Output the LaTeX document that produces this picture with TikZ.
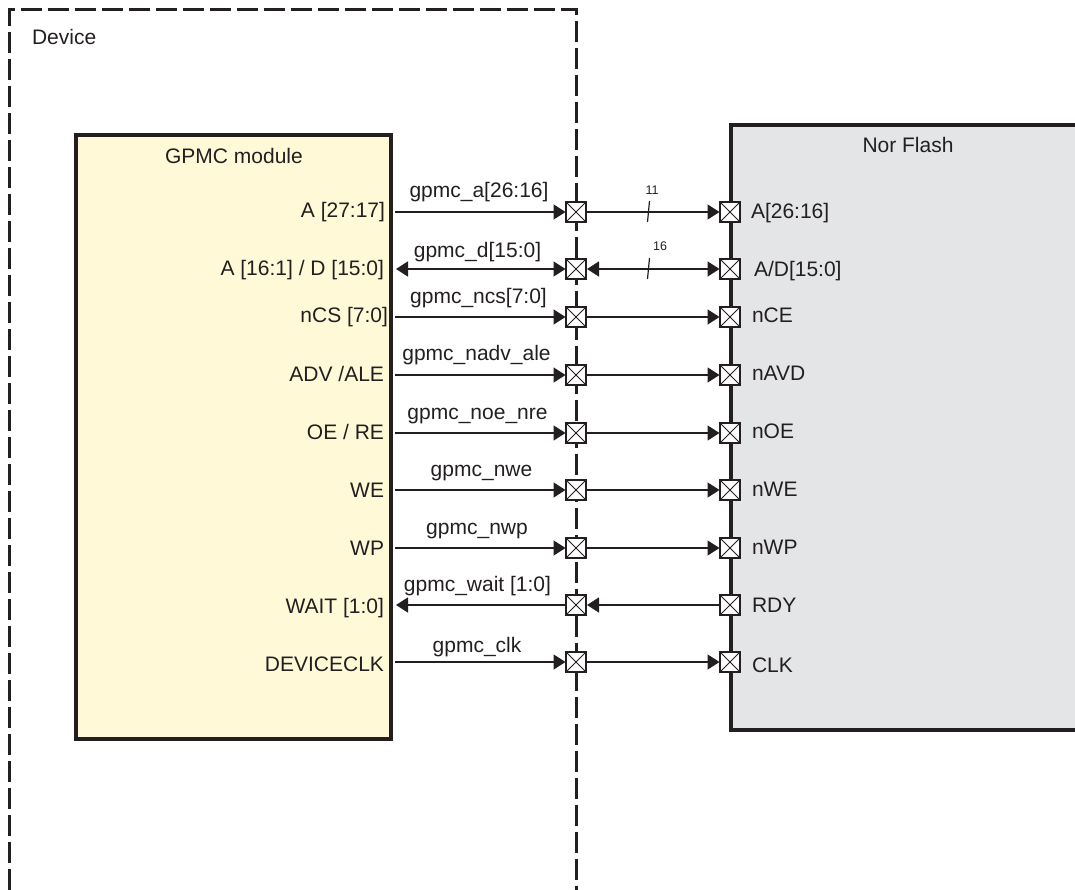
\documentclass[tikz,border=0pt]{standalone}
\usepackage{fontspec}
\setmainfont{Liberation Sans}
\usetikzlibrary{arrows.meta}
\definecolor{ink}{HTML}{231F20}
\definecolor{modyellow}{HTML}{FFF9D8}
\definecolor{flashgray}{HTML}{E4E5E7}
\tikzset{
  x=1pt,y=-1pt,
  every node/.style={text=ink,font=\fontsize{21}{24}\selectfont,inner sep=0pt,outer sep=0pt},
  devline/.style={draw=ink,line width=3pt,dash pattern=on 21pt off 6pt,line cap=butt},
  blockline/.style={draw=ink,line width=4pt,line join=miter},
  pinbox/.style={draw=ink,fill=white,line width=1.3pt,minimum width=20pt,minimum height=20pt,
    path picture={\draw[ink,line width=1pt] (path picture bounding box.south west)--(path picture bounding box.north east)
      (path picture bounding box.north west)--(path picture bounding box.south east);}},
  wire/.style={draw=ink,line width=1.5pt},
  toend/.style={wire,-{Triangle[length=12pt,width=15pt,fill=ink]},shorten >=0.5pt},
  both/.style={wire,{Triangle[length=12pt,width=15pt,fill=ink]}-{Triangle[length=12pt,width=15pt,fill=ink]},shorten >=0.5pt,shorten <=1pt},
  toback/.style={wire,{Triangle[length=12pt,width=15pt,fill=ink]}-,shorten <=1pt},
  leftlab/.style={anchor=base east},
  rightlab/.style={anchor=base west},
  siglab/.style={anchor=base},
  ticklab/.style={font=\fontsize{12.5}{14}\selectfont,anchor=center},
  tick/.style={draw=ink,line width=1.2pt},
}
\begin{document}
\begin{tikzpicture}
\useasboundingbox (0,0) rectangle (1075,890);
% device boundary
\draw[devline] (9.5,890) -- (9.5,10) -- (576,10) -- (576,890);
\node[anchor=base west] (device) at (32,45) {Device};
% GPMC module
\draw[blockline,fill=modyellow] (76,135) rectangle (391,739);
\node[anchor=base] (gpmc) at (234,164) {GPMC module};
% Nor flash
\fill[flashgray] (731,125) rectangle (1075,730);
\draw[blockline] (1075,125) -- (731,125) -- (731,730) -- (1075,730);
\node[anchor=base] (flash) at (908,153) {Nor Flash};
% left wire ends
\foreach \n/\y in {1/212,2/269,3/317,4/375,5/433,6/490,7/548,8/605,9/662}{
  \coordinate (L\n) at (395,\y);
  \node[pinbox] (M\n) at (576,\y) {};
  \node[pinbox] (R\n) at (730,\y) {};
}
% connectors
\foreach \n in {1,3,4,5,6,7,9}{
  \draw[toend] (L\n) -- (M\n.west);
  \draw[toend] (M\n.east) -- (R\n.west);
}
\draw[both] (L2) -- (M2.west);
\draw[both] (M2.east) -- (R2.west);
\draw[toback] (L8) -- (M8.west);
\draw[toback] (M8.east) -- (R8.west);
% bus ticks
\coordinate (t1a) at (649.5,201); \coordinate (t1b) at (647.5,222);
\coordinate (t2a) at (649.5,258); \coordinate (t2b) at (647.5,279);
\draw[tick] (t1a) -- (t1b);
\draw[tick] (t2a) -- (t2b);
\node[ticklab] (n11) at (652,190) {11};
\node[ticklab] (n16) at (660,246) {16};
% module pin labels
\node[leftlab] (a1) at (385,218) {A [27:17]};
\node[leftlab] (a2) at (384,276) {A [16:1] / D [15:0]};
\node[leftlab] (a3) at (388,322) {nCS [7:0]};
\node[leftlab] (a4) at (384,381) {ADV /ALE};
\node[leftlab] (a5) at (384,439) {OE / RE};
\node[leftlab] (a6) at (384,497) {WE};
\node[leftlab] (a7) at (384,555) {WP};
\node[leftlab] (a8) at (384,613) {WAIT [1:0]};
\node[leftlab] (a9) at (384,671) {DEVICECLK};
% flash pin labels
\node[rightlab] (b1) at (751,219) {A[26:16]};
\node[rightlab] (b2) at (754,277) {A/D[15:0]};
\node[rightlab] (b3) at (752,322) {nCE};
\node[rightlab] (b4) at (752,380) {nAVD};
\node[rightlab] (b5) at (752,438) {nOE};
\node[rightlab] (b6) at (752,496) {nWE};
\node[rightlab] (b7) at (752,554) {nWP};
\node[rightlab] (b8) at (752,612) {RDY};
\node[rightlab] (b9) at (752,672) {CLK};
% signal labels
\node[siglab] (s1) at (479,198) {gpmc\_a[26:16]};
\node[siglab] (s2) at (477.5,258) {gpmc\_d[15:0]};
\node[siglab] (s3) at (478.5,303) {gpmc\_ncs[7:0]};
\node[siglab] (s4) at (476.5,360) {gpmc\_nadv\_ale};
\node[siglab] (s5) at (477.5,419) {gpmc\_noe\_nre};
\node[siglab] (s6) at (481.5,476) {gpmc\_nwe};
\node[siglab] (s7) at (477,534) {gpmc\_nwp};
\node[siglab] (s8) at (477.5,591) {gpmc\_wait [1:0]};
\node[siglab] (s9) at (477,652) {gpmc\_clk};
\end{tikzpicture}
\end{document}
